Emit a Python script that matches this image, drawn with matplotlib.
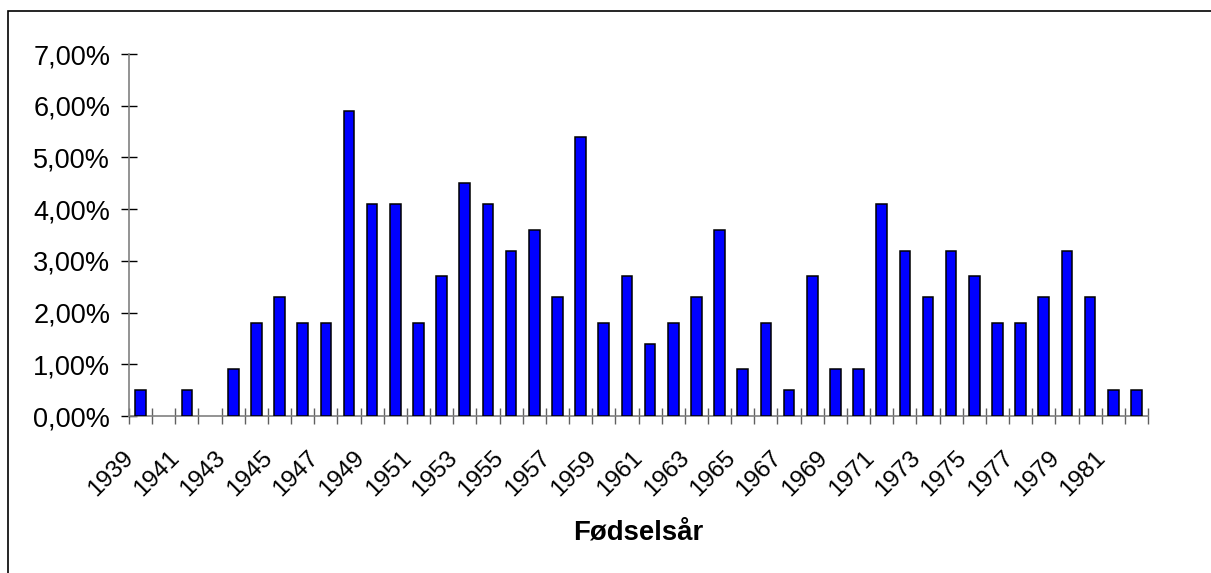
import matplotlib
matplotlib.use("Agg")
import matplotlib.pyplot as plt
import matplotlib.transforms as mtransforms
from matplotlib.patches import Rectangle
import numpy as np

years = list(range(1939, 1983))
values = [0.5, 0.0, 0.5, 0.0, 0.9, 1.8, 2.3, 1.8, 1.8, 5.9,
          4.1, 4.1, 1.8, 2.7, 4.5, 4.1, 3.2, 3.6, 2.3, 5.4,
          1.8, 2.7, 1.4, 1.8, 2.3, 3.6, 0.9, 1.8, 0.5, 2.7,
          0.9, 0.9, 4.1, 3.2, 2.3, 3.2, 2.7, 1.8, 1.8, 2.3,
          3.2, 2.3, 0.5, 0.5]
yticks = [0, 1, 2, 3, 4, 5, 6, 7]
ytick_labels = ["0,00%", "1,00%", "2,00%", "3,00%", "4,00%", "5,00%", "6,00%", "7,00%"]
xlabel = "Fødselsår"

plt.rcParams['font.family'] = ['Liberation Sans', 'DejaVu Sans']

W, H = 1211, 573
fig = plt.figure(figsize=(W / 100, H / 100), dpi=100)
fig.patch.set_facecolor('white')

# outer border (only left and top visible)
fig.patches.append(Rectangle((8 / W, -0.1), 1.2, (H - 11) / H + 0.1,
                             transform=fig.transFigure, fill=False,
                             edgecolor='black', linewidth=1.2))

ax = fig.add_axes([129 / W, (H - 416) / H, (1148 - 129) / W, (416 - 54) / H])
x = np.arange(len(years))
edges = ['black' if v > 0 else 'none' for v in values]
ax.bar(x, values, width=0.46, color='#0000FF', edgecolor=edges, linewidth=1.1, zorder=3)

ax.set_xlim(-0.5, len(years) - 0.5)
ax.set_ylim(0, 7)
for s in ['top', 'right']:
    ax.spines[s].set_visible(False)
for s in ['left', 'bottom']:
    ax.spines[s].set_color('#808080')
    ax.spines[s].set_linewidth(1.2)

ax.set_yticks(yticks)
ax.set_yticklabels(ytick_labels, fontsize=19.5)
ax.tick_params(axis='y', direction='inout', length=11, width=1.0, color='black', pad=8)

# category boundary ticks on x
ax.set_xticks(np.arange(len(years) + 1) - 0.5)
ax.set_xticklabels([])
ax.tick_params(axis='x', direction='inout', length=12, width=1.0, color='#606060')

# year labels every other category, rotated 45
tr = mtransforms.offset_copy(ax.transData, fig=fig, x=-7, y=-31, units='dots')
for i, yr in enumerate(years):
    if i % 2 == 0:
        ax.text(i - 0.5, 0, str(yr), rotation=45, rotation_mode='anchor',
                ha='right', va='top', fontsize=17.5, transform=tr)

fig.text((129 + 1148) / 2 / W, (H - 533) / H, xlabel, ha='center', va='center',
         fontsize=19.8, fontweight='bold')

fig.savefig('out.png', dpi=100)
